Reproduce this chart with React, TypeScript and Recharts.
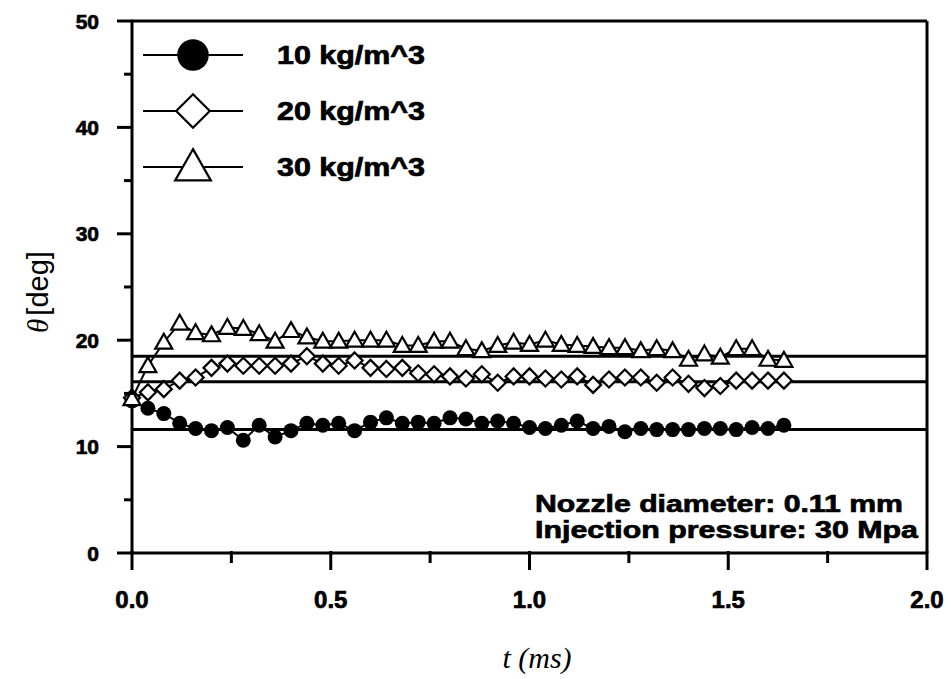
import { LineChart, Line, XAxis, YAxis, ReferenceLine } from "recharts";

// time in ms, one frame every 0.04 ms
const times = [
  0, 0.04, 0.08, 0.12, 0.16, 0.2, 0.24, 0.28, 0.32, 0.36, 0.4, 0.44, 0.48, 0.52,
  0.56, 0.6, 0.64, 0.68, 0.72, 0.76, 0.8, 0.84, 0.88, 0.92, 0.96, 1.0, 1.04, 1.08,
  1.12, 1.16, 1.2, 1.24, 1.28, 1.32, 1.36, 1.4, 1.44, 1.48, 1.52, 1.56, 1.6, 1.64,
];

// spray angle (deg) for each ambient density
const rho10 = [
  14.3, 13.6, 13.1, 12.2, 11.7, 11.5, 11.8, 10.6, 12.0, 10.9, 11.5, 12.2, 12.0, 12.2,
  11.5, 12.3, 12.7, 12.2, 12.3, 12.2, 12.7, 12.6, 12.2, 12.4, 12.2, 11.8, 11.7, 12.0,
  12.4, 11.7, 11.9, 11.4, 11.7, 11.6, 11.6, 11.6, 11.7, 11.7, 11.6, 11.8, 11.7, 12.0,
];
const rho20 = [
  14.6, 15.1, 15.4, 16.2, 16.5, 17.4, 17.8, 17.6, 17.6, 17.6, 17.8, 18.5, 17.8, 17.6,
  18.1, 17.4, 17.3, 17.4, 16.9, 16.8, 16.6, 16.4, 16.8, 16.0, 16.6, 16.6, 16.4, 16.3,
  16.6, 15.8, 16.3, 16.5, 16.5, 16.0, 16.5, 15.9, 15.5, 15.7, 16.2, 16.2, 16.2, 16.2,
];
const rho30 = [
  14.5, 17.6, 19.8, 21.6, 20.7, 20.5, 21.2, 21.1, 20.6, 19.9, 20.9, 20.3, 19.9, 19.9,
  20.0, 20.0, 20.0, 19.5, 19.5, 19.9, 19.9, 19.2, 19.0, 19.5, 19.8, 19.6, 20.0, 19.6,
  19.5, 19.4, 19.3, 19.3, 19.0, 19.2, 19.0, 18.2, 18.7, 18.4, 19.2, 19.2, 18.2, 18.1,
];

// mean angle lines
const meanAngles = [11.6, 16.1, 18.5];

const seriesNames = ["10 kg/m^3", "20 kg/m^3", "30 kg/m^3"];
const xTicks = [0, 0.25, 0.5, 0.75, 1, 1.25, 1.5, 1.75, 2];
const yTicks = [0, 5, 10, 15, 20, 25, 30, 35, 40, 45, 50];
const notes = ["Nozzle diameter: 0.11 mm", "Injection pressure: 30 Mpa"];

const data = times.map((t, i) => ({ t, a: rho10[i], b: rho20[i], c: rho30[i] }));

const SANS = "'Liberation Sans', Arial, sans-serif";
const SERIF = "'Liberation Serif', 'Times New Roman', serif";

// heavy scanned-look text
const bold = { fontWeight: "bold" as const, fontFamily: SANS, fill: "#000", stroke: "#000", strokeWidth: 0.7 };

function Marker({ shape, cx, cy, s = 1 }: any) {
  if (cx == null || cy == null) return null;
  if (shape === "circle") {
    return <circle cx={cx} cy={cy} r={7.5 * s} fill="#000" />;
  }
  if (shape === "diamond") {
    const h = 8 * s;
    return (
      <polygon
        points={`${cx},${cy - h} ${cx + h},${cy} ${cx},${cy + h} ${cx - h},${cy}`}
        fill="#fff"
        stroke="#000"
        strokeWidth={2.2}
      />
    );
  }
  const w = 8.5 * s;
  return (
    <polygon
      points={`${cx},${cy - w} ${cx + w},${cy + 0.75 * w} ${cx - w},${cy + 0.75 * w}`}
      fill="#fff"
      stroke="#000"
      strokeWidth={2.2}
    />
  );
}

const shapes = ["circle", "diamond", "triangle"];

function XTick({ x, y, payload }: any) {
  const v = payload.value;
  const major = Math.abs(v * 2 - Math.round(v * 2)) < 1e-6;
  return (
    <g>
      <line x1={x} x2={x} y1={y - 2} y2={y + (major ? 17 : 10)} stroke="#000" strokeWidth={3} />
      {major && (
        <text x={x} y={y + 55} textAnchor="middle" fontSize={24} {...bold}>
          {v.toFixed(1)}
        </text>
      )}
    </g>
  );
}

function YTick({ x, y, payload }: any) {
  const v = payload.value;
  const major = v % 10 === 0;
  return (
    <g>
      <line x1={x - (major ? 15 : 8)} x2={x + 1} y1={y} y2={y} stroke="#000" strokeWidth={3} />
      {major && (
        <text x={x - 33} y={y + 7.5} textAnchor="end" fontSize={21} {...bold}>
          {v}
        </text>
      )}
    </g>
  );
}

export default function App() {
  const seriesKeys = ["a", "b", "c"];
  return (
    <div style={{ position: "absolute", left: 0, top: 0, width: 951, height: 679, background: "#fff" }}>
      <LineChart width={951} height={679} data={data} margin={{ top: 21, right: 24, bottom: 0, left: 0 }}>
        <XAxis
          type="number"
          dataKey="t"
          domain={[0, 2]}
          ticks={xTicks}
          interval={0}
          height={126}
          tickSize={0}
          tickMargin={0}
          tickLine={false}
          axisLine={{ stroke: "#000", strokeWidth: 3 }}
          tick={<XTick />}
        />
        <YAxis
          type="number"
          domain={[0, 50]}
          ticks={yTicks}
          interval={0}
          width={132}
          tickSize={0}
          tickMargin={0}
          tickLine={false}
          axisLine={{ stroke: "#000", strokeWidth: 3 }}
          tick={<YTick />}
        />
        <ReferenceLine y={50} stroke="#000" strokeWidth={3} />
        <ReferenceLine x={2} stroke="#000" strokeWidth={3} />
        {meanAngles.map((m) => (
          <ReferenceLine key={m} y={m} stroke="#000" strokeWidth={3} />
        ))}
        {seriesKeys.map((k, i) => (
          <Line
            key={k}
            dataKey={k}
            type="linear"
            stroke="#000"
            strokeWidth={2}
            isAnimationActive={false}
            dot={(p: any) => <Marker key={`${k}-${p.index}`} shape={shapes[i]} cx={p.cx} cy={p.cy} />}
          />
        ))}
      </LineChart>
      <svg width={951} height={679} style={{ position: "absolute", left: 0, top: 0, pointerEvents: "none" }}>
        {seriesNames.map((name, i) => {
          const cy = 55 + i * 56;
          return (
            <g key={name}>
              <line x1={143} x2={243} y1={cy} y2={cy} stroke="#000" strokeWidth={2} />
              <Marker shape={shapes[i]} cx={193} cy={cy} s={2.1} />
              <text x={277} y={cy + 9} fontSize={25} textLength={148} lengthAdjust="spacingAndGlyphs" {...bold}>
                {name}
              </text>
            </g>
          );
        })}
        <text x={535} y={512} fontSize={24} textLength={368} lengthAdjust="spacingAndGlyphs" {...bold}>
          {notes[0]}
        </text>
        <text x={535} y={538} fontSize={24} textLength={383} lengthAdjust="spacingAndGlyphs" {...bold}>
          {notes[1]}
        </text>
        <text x={537} y={668} textAnchor="middle" fontSize={30} fontStyle="italic" fontFamily={SERIF} fill="#000">
          t (ms)
        </text>
        <text transform="translate(48,292) rotate(-90)" textAnchor="middle" fontSize={29} fill="#000">
          <tspan fontStyle="italic" fontFamily={SERIF}>θ</tspan>
          <tspan fontFamily={SANS} dx={3}>[deg]</tspan>
        </text>
      </svg>
    </div>
  );
}
